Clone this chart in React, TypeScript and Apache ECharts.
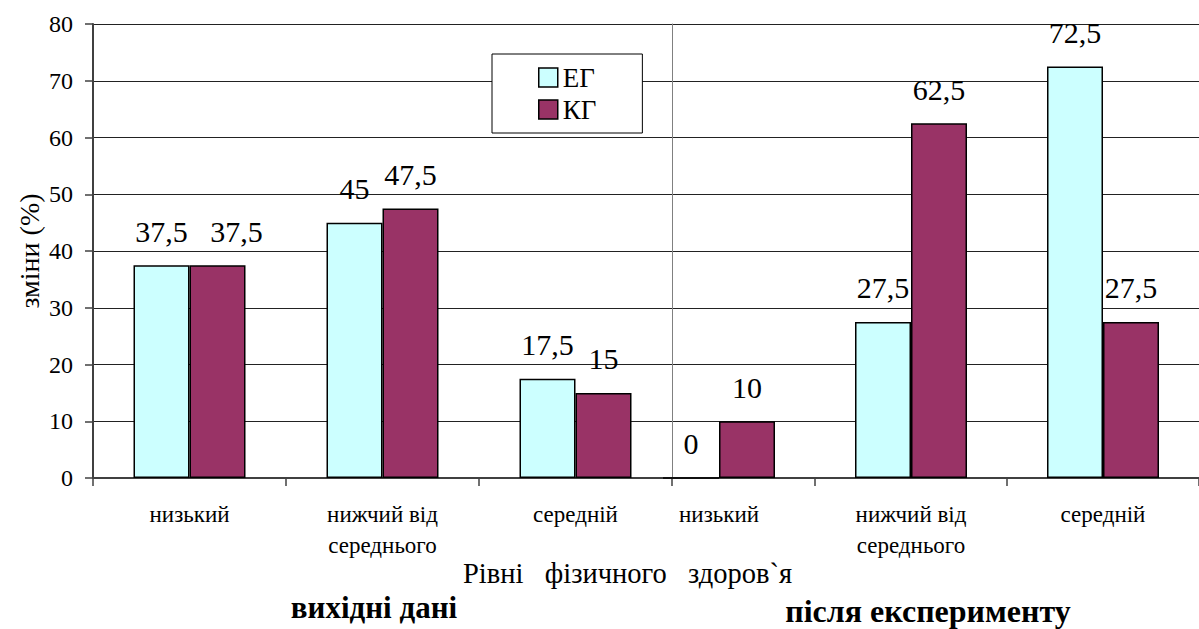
import React, { useEffect, useRef } from 'react';
import * as echarts from 'echarts';

// categories (levels of physical health)
const categories = ['низький', 'нижчий від\nсереднього', 'середній'];
// before the experiment ("вихідні дані")
const egBefore = [37.5, 45, 17.5];
const kgBefore = [37.5, 47.5, 15];
// after the experiment ("після експерименту")
const egAfter = [0, 27.5, 72.5];
const kgAfter = [10, 62.5, 27.5];
// y ticks
const yMin = 0;
const yMax = 80;
const yStep = 10;

const seriesNames = ['ЕГ', 'КГ'];
const axisTitle = 'зміни (%)';
const xTitle = 'Рівні   фізичного   здоров`я';
const leftTitle = 'вихідні дані';
const rightTitle = 'після експерименту';

const FONT = 'Liberation Serif';
const EG_COLOR = '#CCFFFF';
const KG_COLOR = '#993366';

export default function App() {
  const ref = useRef<HTMLDivElement>(null);
  useEffect(() => {
    if (!ref.current) return;
    const chart = echarts.init(ref.current, undefined, { renderer: 'svg' });
    const fmt = (p: any) => String(p.value).replace('.', ',');
    const label = {
      show: true,
      position: 'top',
      distance: 19,
      fontSize: 30,
      fontFamily: FONT,
      color: '#000',
      formatter: fmt,
    };
    const barBase = (name: string, color: string, data: any[], xi: number, yi: number) => ({
      type: 'bar',
      name,
      data,
      xAxisIndex: xi,
      yAxisIndex: yi,
      barWidth: 56,
      barGap: '0%',
      itemStyle: { color, borderColor: '#000', borderWidth: 1.5 },
      label,
    });
    // the reference nudges the overlapping second "37,5" label to the right
    const kgBeforeItems = kgBefore.map((v, i) =>
      i === 0 ? { value: v, label: { offset: [19, 0] } } : v
    );
    const xAxisCommon = {
      type: 'category',
      data: categories,
      axisLine: { show: true, lineStyle: { color: '#404040', width: 2 } },
      axisTick: { show: true, length: 8, lineStyle: { color: '#404040', width: 1.5 } },
      axisLabel: { fontSize: 23, lineHeight: 31, margin: 21, color: '#000', fontFamily: FONT, interval: 0 },
      splitLine: { show: false },
    };
    const splitLine = { show: true, lineStyle: { color: '#222', width: 1 } };
    chart.setOption({
      animation: false,
      backgroundColor: '#fff',
      textStyle: { fontFamily: FONT, color: '#000' },
      grid: [
        { left: 93, top: 24, width: 579, height: 454 },
        { left: 623, top: 24, width: 584, height: 454 },
      ],
      legend: {
        data: seriesNames,
        orient: 'vertical',
        left: 492,
        top: 54,
        padding: [10, 46, 10, 46],
        itemGap: 5,
        itemWidth: 19,
        itemHeight: 19,
        icon: 'rect',
        backgroundColor: '#fff',
        borderColor: '#000',
        borderWidth: 1,
        itemStyle: { borderColor: '#000', borderWidth: 1.5 },
        textStyle: { fontSize: 27, fontFamily: FONT, color: '#000' },
      },
      xAxis: [
        { ...xAxisCommon, gridIndex: 0 },
        {
          ...xAxisCommon,
          gridIndex: 1,
          axisTick: { ...xAxisCommon.axisTick, interval: (i: number) => i > 0 },
        },
      ],
      yAxis: [
        {
          type: 'value',
          gridIndex: 0,
          min: yMin,
          max: yMax,
          interval: yStep,
          name: axisTitle,
          nameLocation: 'middle',
          nameGap: 50,
          nameRotate: 90,
          nameTextStyle: { fontSize: 28, color: '#000000', fontFamily: FONT },
          axisLine: { show: true, lineStyle: { color: '#404040', width: 2 } },
          axisTick: { show: true, length: 8, lineStyle: { color: '#404040', width: 1.5 } },
          axisLabel: { fontSize: 24, margin: 20, color: '#000', fontFamily: FONT },
          splitLine,
        },
        {
          type: 'value',
          gridIndex: 0,
          position: 'right',
          min: yMin,
          max: yMax,
          interval: yStep,
          axisLine: { show: true, lineStyle: { color: '#808080', width: 1 } },
          axisTick: { show: false },
          axisLabel: { show: false },
          splitLine: { show: false },
        },
        {
          type: 'value',
          gridIndex: 1,
          min: yMin,
          max: yMax,
          interval: yStep,
          axisLine: { show: false },
          axisTick: { show: false },
          axisLabel: { show: false },
          splitLine,
        },
      ],
      graphic: [
        {
          type: 'text',
          left: 463,
          top: 559,
          style: { text: xTitle, font: `28.5px ${FONT}`, fill: '#000' },
        },
        {
          type: 'text',
          x: 374,
          y: 607,
          style: { text: leftTitle, font: `bold 31px ${FONT}`, fill: '#000', align: 'center', verticalAlign: 'middle' },
        },
        {
          type: 'text',
          x: 928,
          y: 611,
          style: { text: rightTitle, font: `bold 32px ${FONT}`, fill: '#000', align: 'center', verticalAlign: 'middle' },
        },
      ],
      series: [
        barBase(seriesNames[0], EG_COLOR, egBefore, 0, 0),
        barBase(seriesNames[1], KG_COLOR, kgBeforeItems, 0, 0),
        barBase(seriesNames[0], EG_COLOR, egAfter, 1, 2),
        barBase(seriesNames[1], KG_COLOR, kgAfter, 1, 2),
      ],
    });
    return () => chart.dispose();
  }, []);
  return (
    <div
      ref={ref}
      style={{ position: 'absolute', left: 0, top: 0, width: 1199, height: 629, background: '#fff' }}
    />
  );
}
